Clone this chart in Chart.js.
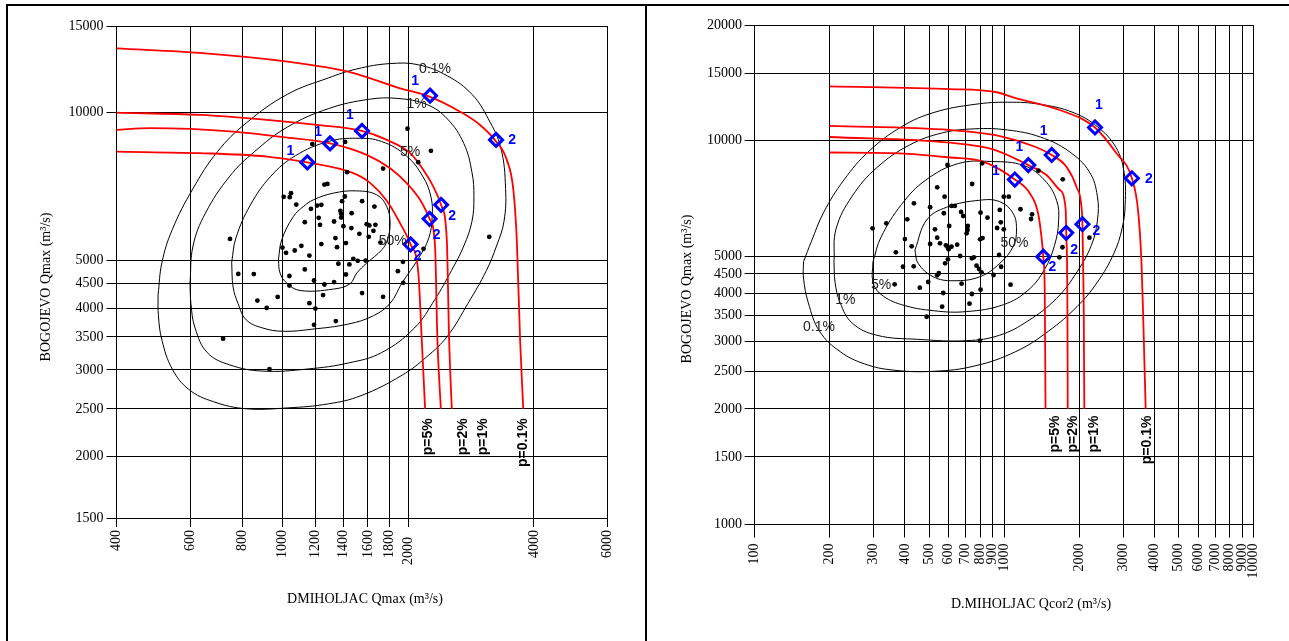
<!DOCTYPE html>
<html>
<head>
<meta charset="utf-8">
<script src="https://cdn.jsdelivr.net/npm/chart.js@4.4.1/dist/chart.umd.min.js"></script>
<style>
  html, body { margin: 0; padding: 0; background: #fff; }
  body { width: 1289px; height: 641px; position: relative; overflow: hidden; }
  .frame { position: absolute; border: 2px solid #000; box-sizing: border-box; }
  #leftFrame { left: 6px; top: 4px; width: 641px; height: 700px; }
  #rightFrame { left: 645px; top: 4px; width: 700px; height: 700px; }
  canvas { position: absolute; top: 0; }
  #leftChart { left: 0; }
  #rightChart { left: 646px; }
</style>
</head>
<body>
<div class="frame" id="leftFrame"></div>
<div class="frame" id="rightFrame"></div>
<canvas id="leftChart" width="646" height="641"></canvas>
<canvas id="rightChart" width="643" height="641"></canvas>
<script>
// ---------- left chart: DMIHOLJAC Qmax vs BOGOJEVO Qmax ----------
const leftXTicks = [400, 600, 800, 1000, 1200, 1400, 1600, 1800, 2000, 4000, 6000];
const leftYTicks = [1500, 2000, 2500, 3000, 3500, 4000, 4500, 5000, 10000, 15000];

// observed pairs (x, y)
const leftObs = [
  [1178, 8630], [1411, 8720], [1427, 7568], [1740, 7695], [1259, 7141], [1280, 7164],
  [1006, 6743], [1040, 6733], [1047, 6860], [1078, 6504], [1169, 6375], [1209, 6474], [1238, 6495],
  [1388, 6609], [1409, 6753], [1550, 6609], [1659, 6443], [1375, 6315], [1381, 6227], [1381, 6120],
  [1463, 6248], [1130, 5990], [1220, 6112], [1229, 5916], [1328, 6008], [1398, 5879], [1461, 5825],
  [1590, 5934], [1613, 5900], [1668, 5916], [1650, 5751], [1527, 5671], [1608, 5592], [1338, 5559],
  [1418, 5430], [1350, 5329], [1238, 5405], [999, 5319], [1019, 5189], [1069, 5245], [1109, 5361],
  [1159, 5123], [1477, 5045], [1513, 4998], [1581, 5005], [1445, 4914], [1360, 4930], [1130, 4800],
  [1038, 4655], [1418, 4688], [1189, 4558], [1259, 4474], [1328, 4524], [1038, 4453], [1250, 4258],
  [1550, 4297], [1740, 4223], [1159, 4100], [1198, 3998], [1341, 3770], [1189, 3705],
  [748, 5537], [783, 4701], [853, 4698], [870, 4150], [916, 4010], [973, 4221], [720, 3472], [930, 3010],
  [1888, 4762], [1991, 9279], [2266, 8362], [2112, 7930], [3125, 5592], [2175, 5287], [1942, 4975],
  [1945, 4509], [1715, 5444]
];

// probability contours 50%, 5%, 1%, 0.1%
const leftC50 = [[977, 5023], [995, 5513], [1061, 6149], [1121, 6444], [1185, 6649], [1323, 6861], [1505, 6934], [1681, 6805], [1776, 6444], [1809, 5962], [1782, 5513], [1728, 5263], [1590, 4945], [1505, 4719], [1450, 4489], [1323, 4379], [1101, 4350], [1023, 4504], [986, 4719]];
const leftC5 = [[755, 4961], [773, 5565], [837, 6489], [937, 7426], [1073, 8173], [1287, 8737], [1507, 8871], [1726, 8737], [1977, 8173], [2165, 7426], [2266, 6743], [2281, 6127], [2240, 5565], [2116, 5058], [1933, 4508], [1807, 4093], [1650, 3866], [1441, 3720], [1175, 3629], [1003, 3594], [896, 3650], [818, 3792], [782, 4093], [761, 4422]];
const leftC1 = [[600, 4508], [610, 5357], [653, 6244], [747, 7426], [856, 8329], [1026, 9345], [1287, 10188], [1613, 10646], [1890, 10686], [2216, 10385], [2481, 9710], [2716, 8656], [2841, 7568], [2872, 6743], [2841, 6010], [2716, 5357], [2537, 4775], [2318, 4176], [2069, 3650], [1726, 3253], [1441, 3100], [1149, 3013], [896, 2983], [747, 3071], [660, 3253], [617, 3650], [603, 4093]];
const leftC01 = [[503, 4256], [514, 4961], [544, 5783], [610, 7010], [698, 8329], [818, 9526], [1026, 10894], [1287, 11763], [1507, 12271], [1807, 12580], [2116, 12510], [2481, 11877], [2841, 10894], [3110, 9710], [3330, 8490], [3420, 7010], [3390, 6010], [3253, 5357], [3076, 4775], [2778, 4093], [2481, 3512], [2216, 3192], [1933, 2927], [1542, 2660], [1287, 2559], [1026, 2511], [818, 2501], [683, 2585], [596, 2738], [544, 3013], [514, 3446], [504, 3866]];

// joint return-period curves p=0.1%, 1%, 2%, 5%
const leftP01 = [[400, 13506], [653, 13199], [1026, 12700], [1441, 12106], [1911, 11208], [2240, 10793], [2661, 10046], [2971, 9440], [3233, 8773], [3443, 8017], [3570, 6966], [3638, 5513], [3705, 3456], [3770, 2500]];
const leftP1 = [[400, 10000], [634, 9893], [916, 9665], [1207, 9440], [1549, 9180], [1776, 8803], [2020, 8272], [2174, 7649], [2296, 7075], [2396, 6495], [2473, 5513], [2505, 3456], [2542, 2500]];
const leftP2 = [[400, 9223], [481, 9297], [762, 9151], [1004, 8913], [1299, 8660], [1590, 8207], [1809, 7708], [1983, 7188], [2134, 6649], [2249, 6084], [2318, 5343], [2348, 3456], [2393, 2500]];
const leftP5 = [[400, 8333], [634, 8272], [916, 8142], [1146, 7923], [1477, 7533], [1620, 7199], [1776, 6618], [1911, 5962], [2025, 5399], [2114, 4719], [2154, 3456], [2194, 2500]];

// design points on each curve (1 and 2)
const leftMarkers = [[2255, 10826], [3245, 8803], [1549, 9180], [2396, 6495], [1299, 8660], [2249, 6084], [1146, 7923], [2025, 5399]];
const leftContourText = ['0.1%', '1%', '5%', '50%'];
const leftContourTextAt = [[2318, 12265], [2093, 10385], [2020, 8329], [1836, 5480]];
const leftPLabelX = [2235, 2701, 3026, 3775];

// ---------- right chart: D.MIHOLJAC Qcor2 vs BOGOJEVO Qmax ----------
const rightXTicks = [100, 200, 300, 400, 500, 600, 700, 800, 900, 1000, 2000, 3000, 4000, 5000, 6000, 7000, 8000, 9000, 10000];
const rightYTicks = [1000, 1500, 2000, 2500, 3000, 3500, 4000, 4500, 5000, 10000, 15000, 20000];

const rightObs = [
  [593, 8649], [816, 8737], [1372, 8357], [1716, 7937], [744, 7717], [539, 7566], [577, 7150], [435, 6873],
  [337, 6095], [297, 5916], [409, 6243], [505, 6711], [615, 6764], [634, 6764], [573, 6474], [672, 6524],
  [685, 6368], [804, 6497], [857, 6304], [960, 6603], [996, 7150], [1043, 7150], [1162, 6631], [1293, 6433],
  [1281, 6255], [969, 6132], [937, 5926], [996, 5880], [602, 5998], [715, 5998], [713, 5855], [528, 5880],
  [400, 5546], [539, 5590], [553, 5406], [707, 5739], [819, 5579], [801, 5536], [426, 5309], [505, 5383],
  [584, 5341], [599, 5215], [615, 5297], [593, 5287], [648, 5361], [666, 5009], [742, 4940], [756, 4970],
  [368, 5121], [393, 4697], [434, 4708], [595, 4911], [580, 4794], [775, 4726], [793, 4633], [811, 4542],
  [954, 5039], [972, 4697], [906, 4469], [547, 4516], [539, 4461], [496, 4285], [364, 4227], [459, 4141],
  [675, 4242], [804, 4092], [570, 4012], [742, 3988], [726, 3762], [564, 3695], [489, 3479], [1060, 4217],
  [799, 3013], [1712, 5279], [1664, 4970], [2195, 5590]
];

const rightC50 = [[439, 5193], [489, 6217], [588, 6711], [799, 7002], [960, 6939], [1085, 6474], [1120, 5855], [1085, 5297], [960, 4794], [799, 4423], [624, 4318], [519, 4423], [452, 4794]];
const rightC5 = [[298, 4841], [321, 5610], [388, 6828], [486, 7908], [656, 8726], [887, 8833], [1199, 8619], [1448, 7908], [1621, 6999], [1652, 6185], [1591, 5341], [1448, 4611], [1245, 4077], [994, 3741], [708, 3589], [524, 3606], [388, 3741], [321, 3978], [298, 4285]];
const rightC1 = [[208, 4841], [212, 5893], [246, 7173], [309, 8515], [417, 9745], [565, 10486], [763, 10747], [1032, 10669], [1395, 10231], [1816, 9389], [2191, 8309], [2362, 7173], [2362, 6185], [2234, 5341], [1958, 4554], [1621, 3884], [1245, 3393], [957, 3113], [708, 3014], [450, 3038], [309, 3113], [246, 3350], [220, 3790], [210, 4281]];
const rightC01 = [[157, 4841], [169, 5474], [189, 6502], [228, 7908], [287, 9389], [388, 10882], [524, 11857], [763, 12447], [1032, 12605], [1395, 12447], [1886, 11857], [2362, 10882], [2800, 9623], [3019, 8309], [3053, 6828], [2964, 5893], [2749, 5085], [2362, 4281], [1958, 3698], [1504, 3190], [1113, 2823], [763, 2590], [524, 2508], [359, 2526], [276, 2621], [220, 2823], [182, 3190], [164, 3790], [157, 4389]];

const rightP01 = [[200, 13870], [608, 13638], [921, 13402], [1120, 12905], [1669, 12032], [2311, 10832], [2816, 9277], [3247, 7985], [3436, 6603], [3545, 4890], [3598, 3622], [3688, 2000]];
const rightP1 = [[200, 10935], [606, 10669], [960, 10292], [1305, 9692], [1550, 9184], [1775, 8560], [1947, 7591], [2039, 6734], [2058, 6061], [2069, 4890], [2083, 3622], [2094, 2000]];
const rightP2 = [[200, 10231], [606, 9886], [903, 9502], [1249, 8644], [1477, 8145], [1669, 7443], [1764, 6603], [1772, 5756], [1785, 4890], [1792, 3622], [1797, 2000]];
const rightP5 = [[200, 9322], [382, 9277], [606, 9046], [823, 8822], [1103, 7927], [1266, 7298], [1367, 6474], [1410, 5624], [1434, 4987], [1454, 4004], [1464, 2000]];

const rightMarkers = [[2311, 10832], [3247, 7985], [1550, 9184], [2058, 6061], [1249, 8644], [1772, 5756], [1103, 7927], [1434, 4987]];
const rightContourText = ['0.1%', '1%', '5%', '50%'];
const rightContourTextAt = [[181, 3269], [231, 3854], [321, 4209], [1100, 5406]];
const rightPLabelX = [1594, 1886, 2284, 3735];

// shared labels
const markerTags = ['1', '2', '1', '2', '1', '2', '1', '2'];
const pLabels = ['p=5%', 'p=2%', 'p=1%', 'p=0.1%'];

const SERIF = '"Liberation Serif", "Times New Roman", serif';
const SANS = '"Liberation Sans", Arial, sans-serif';

// Turn [x, y] pairs into chart points
const toPts = arr => arr.map(([x, y]) => ({ x, y }));
const closed = arr => toPts([...arr, arr[0]]);

function buildDatasets(contours, curves, obs, markers) {
    const sets = [];
    contours.forEach(c => sets.push({
        data: closed(c), showLine: true, borderColor: '#000', borderWidth: 1,
        pointRadius: 0, tension: 0.4, order: 4
    }));
    curves.forEach(c => sets.push({
        data: toPts(c), showLine: true, borderColor: '#ff0000', borderWidth: 1.8,
        pointRadius: 0, cubicInterpolationMode: 'monotone', order: 3
    }));
    sets.push({
        data: toPts(obs), pointRadius: 2.4, pointBackgroundColor: '#000',
        pointBorderWidth: 0, order: 2
    });
    sets.push({
        data: toPts(markers), pointStyle: 'rectRot', pointRadius: 6.5,
        pointBorderColor: '#0000ff', pointBorderWidth: 3,
        pointBackgroundColor: 'rgba(0,0,0,0)', order: 1
    });
    return sets;
}

// Texts drawn on top: contour %, marker tags, p= labels, axis titles
function overlay(spec) {
    return {
        id: 'overlay',
        afterDatasetsDraw(chart) {
            const { ctx } = chart;
            const xs = chart.scales.x, ys = chart.scales.y;
            ctx.save();
            ctx.textAlign = 'center';
            ctx.textBaseline = 'middle';
            // contour labels
            ctx.font = '14px ' + SANS;
            ctx.fillStyle = '#222';
            spec.contourText.forEach((t, i) => {
                const [vx, vy] = spec.contourTextAt[i];
                ctx.fillText(t, xs.getPixelForValue(vx), ys.getPixelForValue(vy));
            });
            // 1 / 2 tags next to the diamonds
            ctx.font = 'bold 14px ' + SANS;
            ctx.fillStyle = '#0000ff';
            spec.markers.forEach(([vx, vy], i) => {
                const [dx, dy] = spec.tagOffsets[i];
                ctx.fillText(markerTags[i], xs.getPixelForValue(vx) + dx, ys.getPixelForValue(vy) + dy);
            });
            // vertical p= labels under the curves
            ctx.fillStyle = '#000';
            ctx.textAlign = 'right';
            pLabels.forEach((t, i) => {
                ctx.save();
                ctx.translate(xs.getPixelForValue(spec.pLabelX[i]), ys.getPixelForValue(spec.pLabelY) + spec.pLabelGap);
                ctx.rotate(-Math.PI / 2);
                ctx.fillText(t, 0, 0);
                ctx.restore();
            });
            // axis titles
            ctx.font = '14px ' + SERIF;
            ctx.textAlign = 'center';
            ctx.fillText(spec.xTitle, spec.xTitlePos[0], spec.xTitlePos[1]);
            ctx.save();
            ctx.translate(spec.yTitlePos[0], spec.yTitlePos[1]);
            ctx.rotate(-Math.PI / 2);
            ctx.fillText(spec.yTitle, 0, 0);
            ctx.restore();
            ctx.restore();
        }
    };
}

function makeChart(id, spec) {
    const canvas = document.getElementById(id);
    const W = canvas.width, H = canvas.height;
    return new Chart(canvas, {
        type: 'scatter',
        data: { datasets: buildDatasets(spec.contours, spec.curves, spec.obs, spec.markers) },
        options: {
            responsive: false,
            animation: false,
            devicePixelRatio: 1,
            events: [],
            layout: { padding: { left: 0, top: spec.area.top, right: W - spec.area.right, bottom: 0 } },
            plugins: { legend: { display: false }, tooltip: { enabled: false } },
            scales: {
                x: {
                    type: 'logarithmic',
                    min: spec.xTicks[0],
                    max: spec.xTicks[spec.xTicks.length - 1],
                    afterBuildTicks: axis => { axis.ticks = spec.xTicks.map(v => ({ value: v })); },
                    afterFit: scale => { scale.height = H - spec.area.bottom; },
                    ticks: {
                        autoSkip: false, minRotation: 90, maxRotation: 90,
                        padding: spec.xPad, color: '#000',
                        font: { family: SERIF, size: 14 },
                        callback: v => (spec.shiftLabel === v ? v + '  ' : String(v))
                    },
                    grid: { color: '#000', lineWidth: 1, tickLength: spec.xTickLen, tickColor: '#000' },
                    border: { color: '#000', width: 1 }
                },
                y: {
                    type: 'logarithmic',
                    min: spec.yTicks[0],
                    max: spec.yTicks[spec.yTicks.length - 1],
                    afterBuildTicks: axis => { axis.ticks = spec.yTicks.map(v => ({ value: v })); },
                    afterFit: scale => { scale.width = spec.area.left; },
                    ticks: {
                        autoSkip: false, padding: spec.yPad, color: '#000',
                        font: { family: SERIF, size: 14 },
                        callback: v => String(v)
                    },
                    grid: { color: '#000', lineWidth: 1, tickLength: spec.yTickLen, tickColor: '#000' },
                    border: { color: '#000', width: 1 }
                }
            }
        },
        plugins: [overlay(spec)]
    });
}

makeChart('leftChart', {
    area: { left: 116.5, top: 26, right: 607.5, bottom: 518 },
    xTicks: leftXTicks, yTicks: leftYTicks,
    xPad: 3, xTickLen: 9, yPad: 3, yTickLen: 10, shiftLabel: 2000,
    obs: leftObs,
    contours: [leftC50, leftC5, leftC1, leftC01],
    curves: [leftP01, leftP1, leftP2, leftP5],
    markers: leftMarkers,
    tagOffsets: [[-15, -15], [16, 0], [-12, -16], [11, 11], [-12, -11], [7, 16], [-17, -11], [7, 12]],
    contourText: leftContourText, contourTextAt: leftContourTextAt,
    pLabelX: leftPLabelX, pLabelY: 2500, pLabelGap: 9.5,
    xTitle: 'DMIHOLJAC Qmax (m³/s)', xTitlePos: [365, 599],
    yTitle: 'BOGOJEVO Qmax (m³/s)', yTitlePos: [46, 287]
});

makeChart('rightChart', {
    area: { left: 108.6, top: 25.3, right: 607.8, bottom: 524.5 },
    xTicks: rightXTicks, yTicks: rightYTicks,
    xPad: 6, xTickLen: 13, yPad: 2.5, yTickLen: 10, shiftLabel: null,
    obs: rightObs,
    contours: [rightC50, rightC5, rightC1, rightC01],
    curves: [rightP01, rightP1, rightP2, rightP5],
    markers: rightMarkers,
    tagOffsets: [[4, -22], [17, 1], [-8, -24], [14, 7], [-9, -18], [8, 17], [-19, -8], [9, 10]],
    contourText: rightContourText, contourTextAt: rightContourTextAt,
    pLabelX: rightPLabelX, pLabelY: 2000, pLabelGap: 6.5,
    xTitle: 'D.MIHOLJAC Qcor2 (m³/s)', xTitlePos: [385, 604],
    yTitle: 'BOGOJEVO Qmax (m³/s)', yTitlePos: [41, 289]
});
</script>
</body>
</html>
